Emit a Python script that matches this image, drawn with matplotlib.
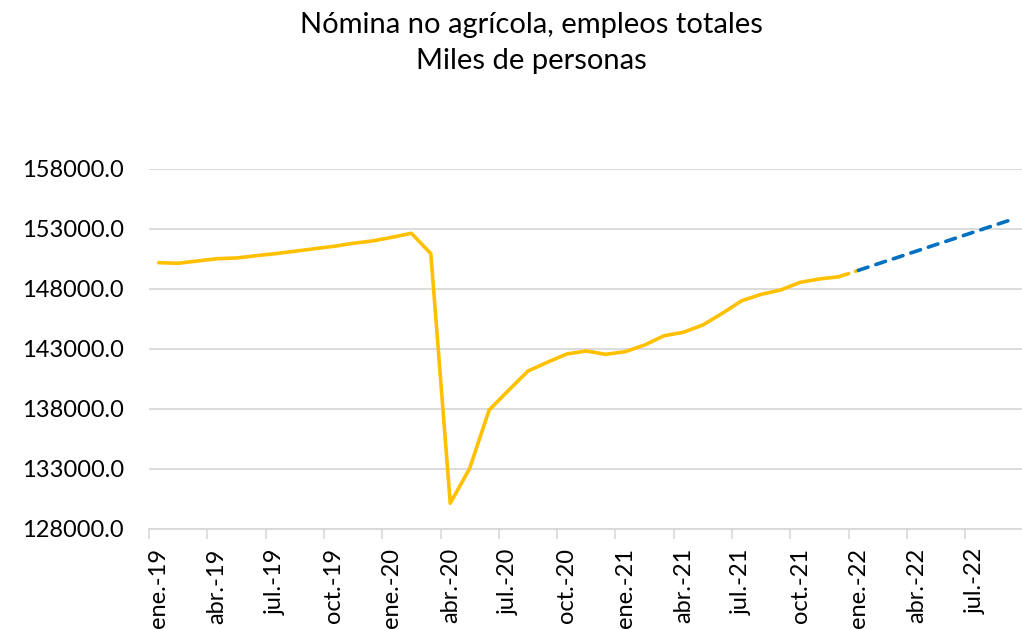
import matplotlib
matplotlib.use("Agg")
import matplotlib.pyplot as plt
from matplotlib.ticker import FixedLocator, FuncFormatter

plt.rcParams['font.family'] = ['Lato', 'DejaVu Sans']

month_abbr = ["ene.", "feb.", "mar.", "abr.", "may.", "jun.",
              "jul.", "ago.", "sep.", "oct.", "nov.", "dic."]
years = ["19", "20", "21", "22"]
months = [f"{m}-{y}" for y in years for m in month_abbr][:45]  # ene.-19 .. sep.-22

actual = [150170, 150120, 150310, 150500, 150560, 150750, 150920, 151120,
          151330, 151530, 151780, 151980, 152280, 152620, 150920, 130120,
          133030, 137890, 139530, 141140, 141870, 142560, 142810, 142530,
          142750, 143310, 144080, 144370, 144980, 145950, 147000, 147530,
          147890, 148530, 148810, 149000]
forecast = [149530, 150070, 150600, 151140, 151680, 152210, 152750, 153290, 153820]

title_lines = ["Nómina no agrícola, empleos totales", "Miles de personas"]
y_ticks = [128000, 133000, 138000, 143000, 148000, 153000, 158000]

W, H = 1022, 629
fig = plt.figure(figsize=(W / 100, H / 100), dpi=100)
left_px, right_px, top_px, bot_px = 149, 1023.6, 168.7, 528.7
ax = fig.add_axes([left_px / W, 1 - bot_px / H, (right_px - left_px) / W, (bot_px - top_px) / H])

n_act = len(actual)
x_act = list(range(n_act))
x_fc = list(range(n_act, n_act + len(forecast)))

yellow = "#FFC000"
blue = "#0070C0"
lw = 2.6
ax.plot(x_act, actual, color=yellow, lw=lw, solid_joinstyle='round', solid_capstyle='round', zorder=3)
# bridge segment dic-21 -> ene-22 (dashed yellow)
ax.plot([x_act[-1], x_fc[0]], [actual[-1], forecast[0]], color=yellow, lw=lw,
        dashes=(2.8, 2.0), dash_capstyle='round', zorder=3)
ax.plot(x_fc, forecast, color=blue, lw=lw, dashes=(2.8, 2.3), dash_capstyle='round', zorder=4)

ax.set_xlim(-0.5, len(months) - 0.5)
ax.set_ylim(y_ticks[0], y_ticks[-1])

ax.yaxis.set_major_locator(FixedLocator(y_ticks))
ax.yaxis.set_major_formatter(FuncFormatter(lambda v, p: f"{v:.1f}"))
ax.tick_params(axis='y', length=0, pad=18, labelsize=17, labelcolor='#000000')

# ticks between categories, labels at categories
tick_pos = [i - 0.5 for i in range(0, len(months), 3)]
label_pos = list(range(0, len(months), 3))
ax.xaxis.set_major_locator(FixedLocator(tick_pos))
ax.xaxis.set_major_formatter(FuncFormatter(lambda v, p: ""))
ax.xaxis.set_minor_locator(FixedLocator(label_pos))
ax.set_xticklabels([months[i] for i in label_pos], minor=True, rotation=90, fontsize=17)
ax.tick_params(axis='x', which='major', length=7, width=1.2, color='#d9d9d9', direction='out')
ax.tick_params(axis='x', which='minor', length=0, pad=14)
for lab in ax.get_xticklabels(minor=True):
    lab.set_va('top')
    lab.set_ha('center')

ax.grid(axis='y', color='#d9d9d9', lw=1.3, zorder=0)
for s in ['top', 'right', 'left']:
    ax.spines[s].set_visible(False)
ax.spines['bottom'].set_color('#d9d9d9')
ax.spines['bottom'].set_linewidth(1.3)
ax.set_axisbelow(True)

fig.text(531 / W, 1 - 25 / H, title_lines[0], ha='center', va='center', fontsize=21, color='#000000')
fig.text(531 / W, 1 - 61 / H, title_lines[1], ha='center', va='center', fontsize=21, color='#000000')

fig.savefig("out.png", dpi=100)
